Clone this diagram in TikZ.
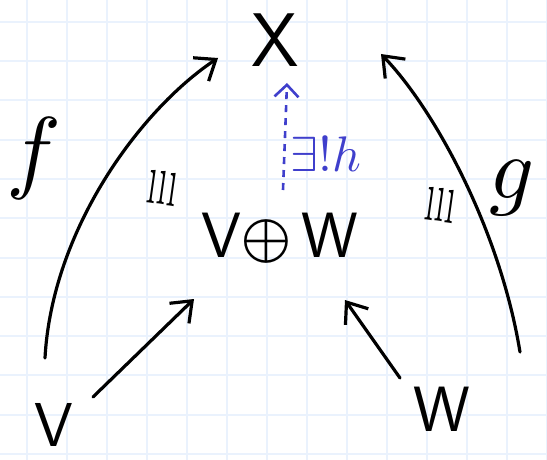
\documentclass[tikz,border=0pt]{standalone}
\usepackage{fontspec}
\usepackage{unicode-math}
\setmathfont{Latin Modern Math}
\usetikzlibrary{arrows.meta,calc}
\definecolor{gridc}{HTML}{EAF2FD}
\definecolor{hblue}{HTML}{3F3FCC}
\begin{document}
\begin{tikzpicture}[x=1pt,y=-1pt,
  obj/.style={inner sep=0pt, font=\sffamily\fontsize{64}{64}\selectfont},
  lab/.style={inner sep=0pt},
  tick/.style={inner sep=0pt, rotate=-8, font=\fontsize{40}{40}\selectfont},
  arr/.style={line width=3.2pt, line cap=round, line join=round, -{Straight Barb[length=18pt,width=28pt,line width=3.2pt]}},
  harr/.style={hblue, line width=2.6pt, dash pattern=on 7pt off 6pt, -{Straight Barb[length=12pt,width=24pt,line width=2.6pt]}},
  gridline/.style={gridc, line width=2pt}
]
\useasboundingbox (0,0) rectangle (547,460);
\fill[white] (0,0) rectangle (547,460);
\foreach \i in {0,...,13} \draw[gridline] ({26.7+40*\i},0) -- ({26.7+40*\i},460);
\foreach \j in {0,...,11} \draw[gridline] (0,{21.7+39.3*\j}) -- (547,{21.7+39.3*\j});

\node[obj, font=\sffamily\fontsize{76}{76}\selectfont] (X) at (275,40) {X};
\node[obj] (S) at (280,238) {V$\oplus$\,W};
\node[obj, font=\sffamily\fontsize{62}{62}\selectfont] (V) at (54,425) {V};
\node[obj] (W) at (442,409) {W};
\node[lab, font=\fontsize{92}{92}\selectfont] (f) at (33,158) {$f$};
\node[lab, font=\fontsize{88}{88}\selectfont] (g) at (512,188) {$g$};
\node[lab, text=hblue, font=\fontsize{50}{50}\selectfont] (h) at (326,154) {$\exists!h$};
\node[tick] (i1) at (163,188) {\scalebox{1}[1.9]{ııı}};
\node[tick] (i2) at (441,205) {\scalebox{1}[1.9]{ııı}};

\draw[arr] ($(V)+(39,-28)$) -- ($(S)+(-86,61)$);
\draw[arr] ($(W)+(-42,-31)$) -- ($(S)+(65,62)$);
\draw[arr] ($(V)+(-9,-67)$) .. controls (52,230) and (140,110) .. ($(X)+(-57,18)$);
\draw[arr] ($(W)+(78,-57)$) .. controls (500,230) and (435,110) .. ($(X)+(106,14)$);
\draw[harr] ($(S)+(3,-48)$) -- ($(X)+(12,43)$);
\end{tikzpicture}
\end{document}
